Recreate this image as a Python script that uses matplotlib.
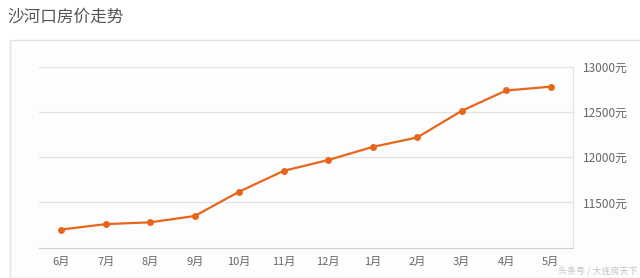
import matplotlib.pyplot as plt
from matplotlib.patches import Rectangle

plt.rcParams['font.family'] = ['Noto Sans CJK SC', 'DejaVu Sans']

# data
months = ['6月', '7月', '8月', '9月', '10月', '11月', '12月', '1月', '2月', '3月', '4月', '5月']
prices = [11200, 11260, 11280, 11350, 11620, 11850, 11970, 12115, 12220, 12515, 12740, 12782]
yticks = [11500, 12000, 12500, 13000]
ytick_labels = [f"{v}元" for v in yticks]

title = "沙河口房价走势"
watermark = "头条号 / 大连房天下"

fig = plt.figure(figsize=(6.4, 2.78), dpi=100)
fig.patch.set_facecolor('white')

# card behind the chart
card = Rectangle((10 / 640, 0), 1.0, (278 - 40) / 278, transform=fig.transFigure,
                 facecolor='#fdfdfd', edgecolor='#e3e3e3', linewidth=1.0, zorder=-5)
fig.patches.append(card)

fig.text(7 / 640, 1 - 17 / 278, title, fontsize=12, color='#555555', va='center', ha='left')

ax = fig.add_axes([39 / 640, 1 - 247.6 / 278, (573 - 39) / 640, (247.6 - 67) / 278])
ax.set_zorder(2)
ax.set_facecolor('none')

x = list(range(len(months)))
ax.plot(x, prices, color='#e8661c', linewidth=1.6, marker='o', markersize=5,
        markeredgewidth=0, zorder=3)

ax.set_xlim(-0.5, len(months) - 0.5)
ax.set_ylim(11000, 13000)
ax.set_xticks(x)
ax.set_xticklabels(months)
ax.set_yticks(yticks)
ax.set_yticklabels(ytick_labels)
ax.yaxis.tick_right()
ax.tick_params(axis='both', length=0, labelsize=8, colors='#666666')
ax.tick_params(axis='y', labelsize=8.5, pad=7)
ax.tick_params(axis='x', pad=7)

ax.grid(axis='y', color='#e2e2e2', linewidth=0.9)
for s in ['top', 'left']:
    ax.spines[s].set_visible(False)
ax.spines['bottom'].set_color('#cfcfcf')
ax.spines['right'].set_color('#e2e2e2')

fig.text(1 - 2 / 640, 1 - 271 / 278, watermark, fontsize=6.5, color='#c4c4c4',
         ha='right', va='center', zorder=5)

fig.savefig('out.png', dpi=100)
